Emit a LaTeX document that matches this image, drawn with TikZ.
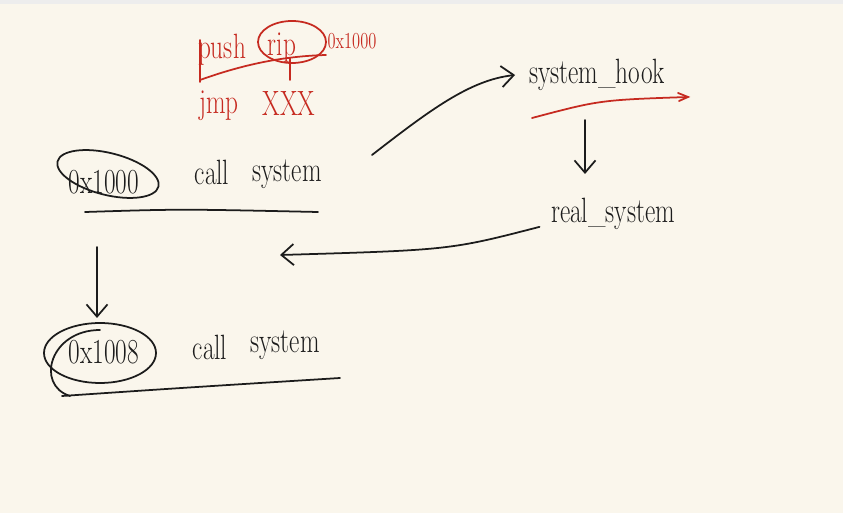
\documentclass[tikz,border=0pt]{standalone}
\usetikzlibrary{positioning,arrows.meta}
\definecolor{paper}{HTML}{FAF6EC}
\definecolor{ink}{HTML}{1C1C1C}
\definecolor{redink}{HTML}{C62A20}
\begin{document}
\begin{tikzpicture}[x=0.02cm,y=-0.02cm,
  word/.style={font=\fontsize{20}{22}\selectfont,text=ink,inner sep=1pt,xscale=0.72},
  redword/.style={word,text=redink},
  pen/.style={draw=ink,line width=1pt,line cap=round},
  redpen/.style={draw=redink,line width=1pt,line cap=round},
  tip/.style={-{Straight Barb[length=7pt,width=12pt]}}]
\fill[paper] (0,0) rectangle (843,513);
\fill[black!7] (0,0) rectangle (843,4);
\useasboundingbox (0,0) rectangle (843,513);

% red notes
\node[redword] (push) at (222,50) {push};
\node[redword] (rip) at (282,48) {rip};
\node[redword,font=\fontsize{13}{14}\selectfont] (ret) at (352,41) {0x1000};
\node[redword] (jmp) at (219,106) {jmp};
\node[redword] (xxx) at (289,104) {XXX};
\draw[redpen] (292,42) ellipse (34 and 21);
\draw[redpen] (200,40) -- (200,82);
\draw[redpen] (200,80) .. controls (250,62) and (290,56) .. (326,55);
\draw[redpen] (290,58) -- (290,80);

% first call
\node[word] (addrA) at (104,182) {0x1000};
\node[word] (callA) at (212,172) {call};
\node[word] (sysA) at (287,174) {system};
\draw[pen,rotate around={-14:(108,174)}] (108,174) ellipse (52 and 21);
\draw[pen] (85,212) .. controls (180,209) .. (318,212);

% second call
\node[word] (addrB) at (104,352) {0x1008};
\node[word] (callB) at (210,347) {call};
\node[word] (sysB) at (285,345) {system};
\draw[pen] (100,353) ellipse (56 and 30);
\draw[pen] (100,330) .. controls (50,330) and (35,385) .. (70,396);
\draw[pen] (62,396) .. controls (180,388) .. (340,378);

% hook side
\node[word] (hook) at (597,75) {system\_hook};
\node[word] (real) at (613,214) {real\_system};
\draw[redpen] (532,118) .. controls (600,100) .. (688,97);
\draw[redpen] (678,93) -- (688,97) -- (679,101);

% arrows
\coordinate (downA) at (97,247);
\coordinate (downB) at (97,318);
\draw[pen,tip] (downA) -- (downB);
\coordinate (hookOut) at (585,120);
\coordinate (realIn) at (585,174);
\draw[pen,tip] (hookOut) -- (realIn);
\coordinate (callOut) at (372,155);
\draw[pen,tip] (callOut) .. controls (430,110) and (470,80) .. ([xshift=-0.25cm]hook.west);
\coordinate (back) at (280,255);
\draw[pen,tip] ([xshift=-0.2cm,yshift=0.1cm]real.south west) .. controls (450,250) .. (back);
\end{tikzpicture}
\end{document}
